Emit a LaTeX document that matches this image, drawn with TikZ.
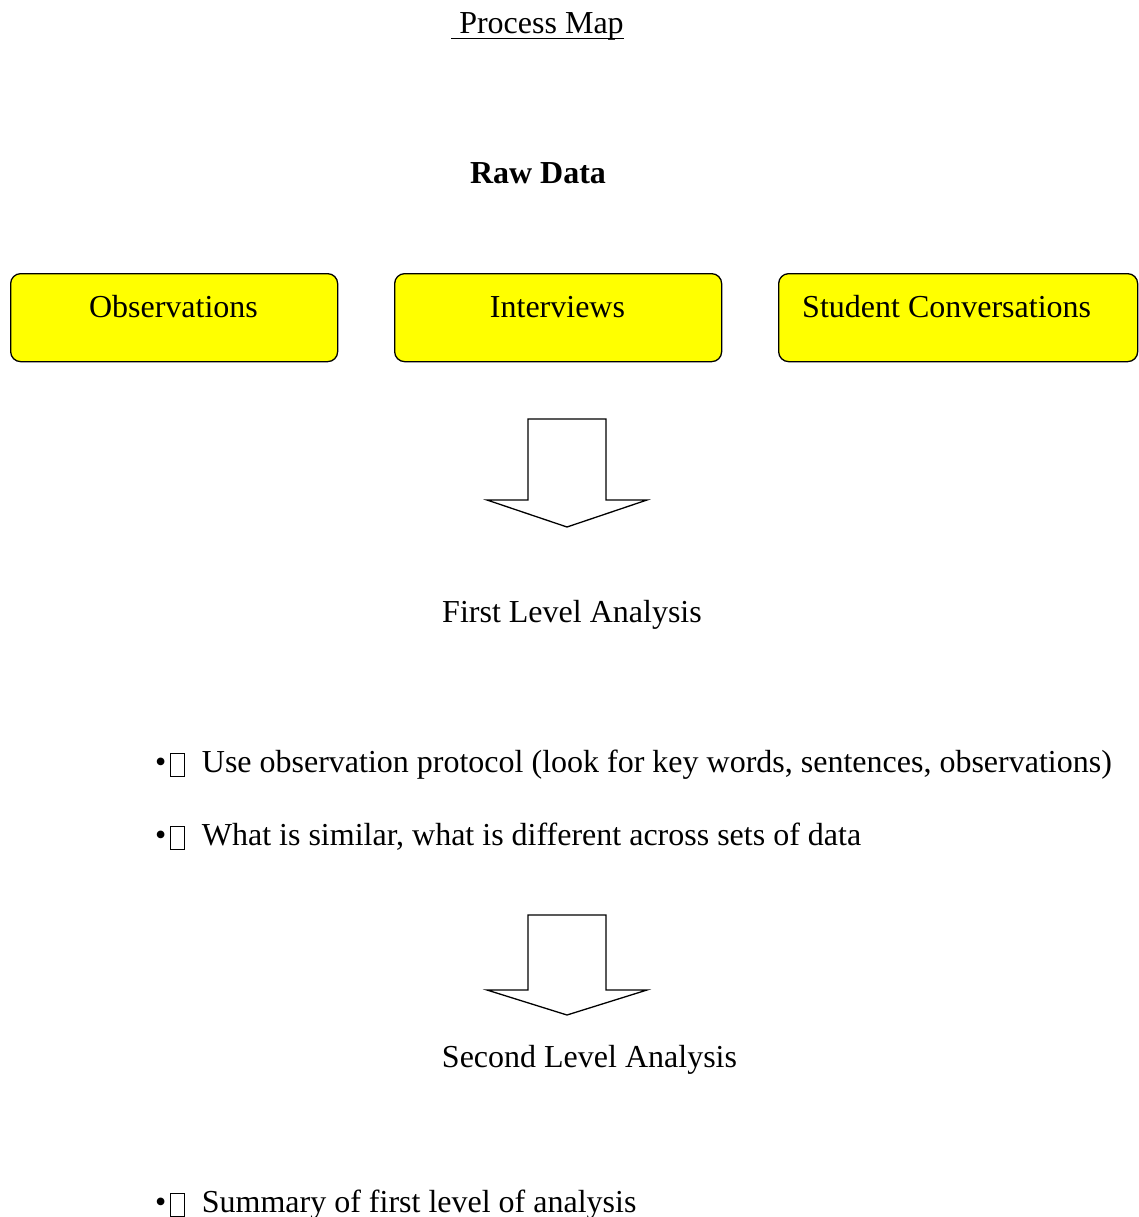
\documentclass[tikz,border=0pt]{standalone}
\usepackage{fontspec}
\setmainfont{Liberation Serif}
\definecolor{boxyellow}{RGB}{255,255,0}
\newcommand{\tofubox}{\raisebox{-4pt}{\setlength{\fboxsep}{0pt}\setlength{\fboxrule}{1pt}\fbox{\rule{0pt}{22pt}\hspace{12.5pt}}}}
\tikzset{
  every node/.style={font=\fontsize{32}{38}\selectfont, inner sep=0pt},
  ybox/.style={draw=black, line width=1.3pt, fill=boxyellow, rounded corners=10pt, anchor=north west},
  blockarrow/.style={draw=black, line width=1.3pt, fill=white, line join=miter},
  lbl/.style={anchor=base},
  bul/.style={anchor=base west}
}
\begin{document}
\begin{tikzpicture}[x=1pt,y=-1pt]
\useasboundingbox (0,0) rectangle (1138,1217);
% title
\node[lbl] (title) at (537.5,34) {\ Process Map};
\draw[line width=1.2pt] ([yshift=-4.5pt]title.base west) -- ([yshift=-4.5pt]title.base east);
\node[lbl] (raw) at (538,183) {\bfseries Raw Data};
% boxes
\node[ybox, minimum width=327pt, minimum height=88pt] (obsbox) at (10,273) {};
\node[ybox, minimum width=327pt, minimum height=88pt] (intbox) at (394,273) {};
\node[ybox, minimum width=359pt, minimum height=88pt] (stubox) at (778,273) {};
\node[lbl] (obs) at (173.5,317) {Observations};
\node[lbl] (int) at (557.5,317) {Interviews};
\node[anchor=base west] (stu) at (802,317) {Student Conversations};
% arrow 1
\draw[blockarrow] (528,419) -- (606,419) -- (606,500) -- (647,500) -- (567,527) -- (487,500) -- (528,500) -- cycle;
\node[lbl] (first) at (572,622) {First Level Analysis};
% bullets
\node[bul] (b1) at (155,772) {\textbullet\hspace{4pt}\tofubox\hspace{17pt}Use observation protocol (look for key words, sentences, observations)};
\node[bul] (b2) at (155,845) {\textbullet\hspace{4pt}\tofubox\hspace{17pt}What is similar, what is different across sets of data};
% arrow 2
\draw[blockarrow] (528,915) -- (606,915) -- (606,990) -- (647,990) -- (567,1015) -- (487,990) -- (528,990) -- cycle;
\node[lbl] (second) at (589.5,1067) {Second Level Analysis};
\node[bul] (b3) at (155,1212) {\textbullet\hspace{4pt}\tofubox\hspace{17pt}Summary of first level of analysis};
\end{tikzpicture}
\end{document}
